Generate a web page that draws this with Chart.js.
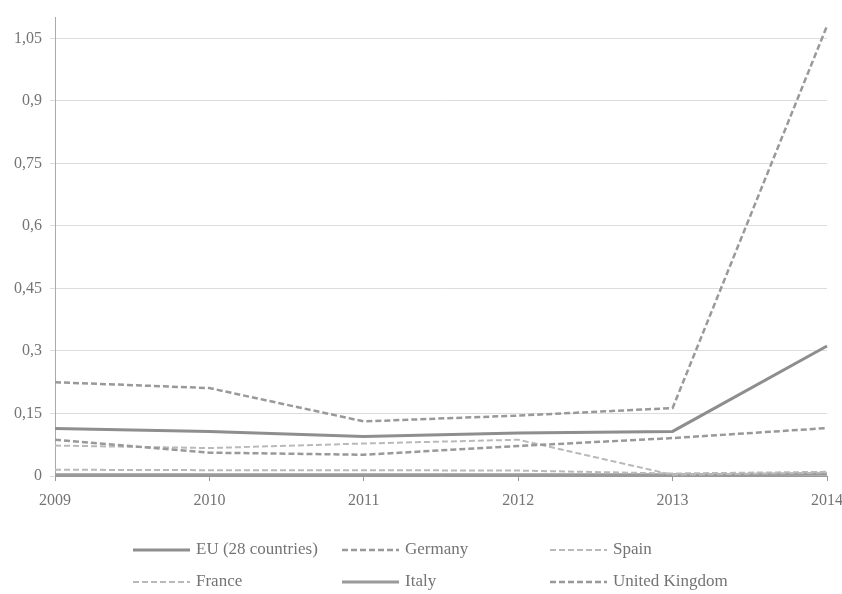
<!DOCTYPE html>
<html>
<head>
<meta charset="utf-8">
<script src="https://cdn.jsdelivr.net/npm/chart.js@4/dist/chart.umd.min.js"></script>
<style>
  html, body { margin: 0; padding: 0; background: #fff; }
  #wrap { width: 842px; height: 594px; }
</style>
</head>
<body>
<div id="wrap"><canvas id="myChart" width="842" height="594"></canvas></div>
<script>
// data
const years = ['2009', '2010', '2011', '2012', '2013', '2014'];
const eu = [0.114, 0.107, 0.095, 0.103, 0.107, 0.312];
const germany = [0.087, 0.056, 0.051, 0.072, 0.091, 0.115];
const spain = [0.073, 0.067, 0.078, 0.087, 0.003, 0.008];
const france = [0.015, 0.014, 0.014, 0.013, 0.006, 0.010];
const italy = [0.003, 0.003, 0.003, 0.003, 0.003, 0.004];
const uk = [0.225, 0.211, 0.131, 0.145, 0.163, 1.08];

const yTicks = [0, 0.15, 0.3, 0.45, 0.6, 0.75, 0.9, 1.05];
const yTickLabels = ['0', '0,15', '0,3', '0,45', '0,6', '0,75', '0,9', '1,05'];

const serif = '"Liberation Serif", "DejaVu Serif", serif';
const textColor = '#747474';

// legend drawn as a 3 column grid like the original
const gridLegend = {
    id: 'gridLegend',
    afterDraw(chart) {
        const ctx = chart.ctx;
        const colX = [133, 342, 550];
        const rowY = [550, 582];
        ctx.save();
        ctx.font = '17px ' + serif;
        ctx.textBaseline = 'middle';
        chart.data.datasets.forEach(function (ds, i) {
            let x = colX[i % 3];
            let y = rowY[Math.floor(i / 3)];
            ctx.strokeStyle = ds.borderColor;
            ctx.lineWidth = ds.borderWidth;
            ctx.setLineDash(ds.borderDash || []);
            ctx.beginPath();
            ctx.moveTo(x, y);
            ctx.lineTo(x + 57, y);
            ctx.stroke();
            ctx.setLineDash([]);
            ctx.fillStyle = textColor;
            ctx.fillText(ds.label, x + 63, y);
        });
        ctx.restore();
    }
};

var ctx = document.getElementById('myChart').getContext('2d');
var myChart = new Chart(ctx, {
    type: 'line',
    data: {
        labels: years,
        datasets: [
            { label: 'EU (28 countries)', data: eu, borderColor: '#8e8e8e', borderWidth: 3 },
            { label: 'Germany', data: germany, borderColor: '#999999', borderWidth: 2.5, borderDash: [6, 3] },
            { label: 'Spain', data: spain, borderColor: '#b9b9b9', borderWidth: 2, borderDash: [6, 3] },
            { label: 'France', data: france, borderColor: '#b9b9b9', borderWidth: 2, borderDash: [6, 3] },
            { label: 'Italy', data: italy, borderColor: '#9a9a9a', borderWidth: 3 },
            { label: 'United Kingdom', data: uk, borderColor: '#999999', borderWidth: 2.5, borderDash: [6, 3] }
        ].map(d => Object.assign({ pointRadius: 0, tension: 0, fill: false }, d))
    },
    options: {
        responsive: false,
        animation: false,
        layout: { padding: { top: 13, right: 15, bottom: 80, left: 0 } },
        plugins: {
            legend: { display: false },
            tooltip: { enabled: false }
        },
        scales: {
            x: {
                type: 'category',
                offset: false,
                grid: { drawOnChartArea: false, drawTicks: true, tickLength: 5, color: '#999' },
                border: { color: '#999' },
                ticks: { color: textColor, font: { family: serif, size: 16 }, padding: 10, maxRotation: 0 },
                afterFit: function (scale) {
                    scale.height = 38;
                    scale.paddingRight = 0;
                }
            },
            y: {
                min: 0,
                max: 1.1,
                afterBuildTicks: function (axis) {
                    axis.ticks = yTicks.map(v => ({ value: v }));
                },
                grid: { color: '#dcdcdc', drawTicks: true, tickLength: 5 },
                border: { color: '#aaa' },
                ticks: {
                    color: textColor,
                    font: { family: serif, size: 16 },
                    padding: 8,
                    callback: function (v) {
                        let i = yTicks.indexOf(v);
                        return i >= 0 ? yTickLabels[i] : '';
                    }
                },
                afterFit: function (scale) { scale.width = 55; }
            }
        }
    },
    plugins: [gridLegend]
});
</script>
</body>
</html>
